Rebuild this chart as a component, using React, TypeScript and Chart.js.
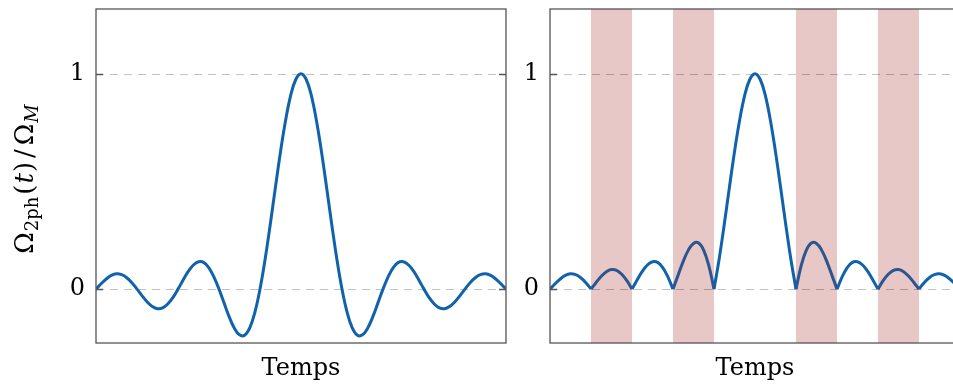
import React, { useEffect, useRef } from "react";
import { Chart, registerables } from "chart.js";

Chart.register(...registerables);

// Time axis, in units of pi
const T_PI = [
  -5, -4.875, -4.75, -4.625, -4.5, -4.375, -4.25, -4.125,
  -4, -3.875, -3.75, -3.625, -3.5, -3.375, -3.25, -3.125,
  -3, -2.875, -2.75, -2.625, -2.5, -2.375, -2.25, -2.125,
  -2, -1.875, -1.75, -1.625, -1.5, -1.375, -1.25, -1.125,
  -1, -0.875, -0.75, -0.625, -0.5, -0.375, -0.25, -0.125,
  0,
  0.125, 0.25, 0.375, 0.5, 0.625, 0.75, 0.875, 1,
  1.125, 1.25, 1.375, 1.5, 1.625, 1.75, 1.875, 2,
  2.125, 2.25, 2.375, 2.5, 2.625, 2.75, 2.875, 3,
  3.125, 3.25, 3.375, 3.5, 3.625, 3.75, 3.875, 4,
  4.125, 4.25, 4.375, 4.5, 4.625, 4.75, 4.875, 5,
];

// Left panel: Omega_2ph(t)/Omega_M
const OMEGA_2PH = [
  0, 0.025, 0.047, 0.064, 0.071, 0.067, 0.053, 0.03,
  0, -0.031, -0.06, -0.081, -0.091, -0.087, -0.069, -0.039,
  0, 0.042, 0.082, 0.112, 0.127, 0.124, 0.1, 0.057,
  0, -0.065, -0.129, -0.181, -0.212, -0.214, -0.18, -0.108,
  0, 0.139, 0.3, 0.471, 0.637, 0.784, 0.9, 0.974,
  1,
  0.974, 0.9, 0.784, 0.637, 0.471, 0.3, 0.139, 0,
  -0.108, -0.18, -0.214, -0.212, -0.181, -0.129, -0.065, 0,
  0.057, 0.1, 0.124, 0.127, 0.112, 0.082, 0.042, 0,
  -0.039, -0.069, -0.087, -0.091, -0.081, -0.06, -0.031, 0,
  0.03, 0.053, 0.067, 0.071, 0.064, 0.047, 0.025, 0,
];

// Right panel: rectified curve
const OMEGA_2PH_RECT = [
  0, 0.025, 0.047, 0.064, 0.071, 0.067, 0.053, 0.03,
  0, 0.031, 0.06, 0.081, 0.091, 0.087, 0.069, 0.039,
  0, 0.042, 0.082, 0.112, 0.127, 0.124, 0.1, 0.057,
  0, 0.065, 0.129, 0.181, 0.212, 0.214, 0.18, 0.108,
  0, 0.139, 0.3, 0.471, 0.637, 0.784, 0.9, 0.974,
  1,
  0.974, 0.9, 0.784, 0.637, 0.471, 0.3, 0.139, 0,
  0.108, 0.18, 0.214, 0.212, 0.181, 0.129, 0.065, 0,
  0.057, 0.1, 0.124, 0.127, 0.112, 0.082, 0.042, 0,
  0.039, 0.069, 0.087, 0.091, 0.081, 0.06, 0.031, 0,
  0.03, 0.053, 0.067, 0.071, 0.064, 0.047, 0.025, 0,
];

const LOBE_EDGES = [-5, -4, -3, -2, -1, 1, 2, 3, 4, 5];
const SHADED_BANDS = [
  [-4, -3],
  [-2, -1],
  [1, 2],
  [3, 4],
];
const Y_TICKS = [0, 1];
const X_RANGE = [-5, 5];
const Y_RANGE = [-0.25, 1.3];
const X_TITLE = "Temps";

const FONT = "'DejaVu Serif', serif";
const LINE_BLUE = "#1062ab";
const LINE_SHADED = "#2b5690";
const BAND_COLOR = "#e8c7c7";
const FRAME_COLOR = "#555555";

function decorPlugin(bands: number[][], drawYTitle: boolean) {
  return {
    id: "decor",
    beforeDraw(chart: any) {
      const { ctx, chartArea: a, scales } = chart;
      const x = scales.x;
      ctx.save();
      ctx.fillStyle = BAND_COLOR;
      for (const [b0, b1] of bands) {
        const p0 = x.getPixelForValue(b0);
        const p1 = x.getPixelForValue(b1);
        ctx.fillRect(p0, a.top, p1 - p0, a.bottom - a.top);
      }
      ctx.restore();
    },
    beforeDatasetsDraw(chart: any) {
      const { ctx, chartArea: a, scales } = chart;
      const y = scales.y;
      ctx.save();
      ctx.strokeStyle = "rgba(0,0,0,0.24)";
      ctx.lineWidth = 1;
      ctx.setLineDash([8, 6]);
      for (const v of Y_TICKS) {
        const py = Math.round(y.getPixelForValue(v)) + 0.5;
        ctx.beginPath();
        ctx.moveTo(a.left, py);
        ctx.lineTo(a.right, py);
        ctx.stroke();
      }
      ctx.restore();
    },
    afterDraw(chart: any) {
      const { ctx, chartArea: a, scales } = chart;
      const y = scales.y;
      ctx.save();
      ctx.strokeStyle = FRAME_COLOR;
      ctx.lineWidth = 1.3;
      for (const v of Y_TICKS) {
        const py = Math.round(y.getPixelForValue(v)) + 0.5;
        ctx.beginPath();
        ctx.moveTo(a.left, py);
        ctx.lineTo(a.left + 7, py);
        ctx.moveTo(a.right - 7, py);
        ctx.lineTo(a.right, py);
        ctx.stroke();
      }
      ctx.strokeRect(a.left, a.top, a.right - a.left, a.bottom - a.top);
      ctx.restore();

      if (drawYTitle) {
        const parts = [
          { t: "Ω", size: 26, style: "", dy: 0, gap: 0 },
          { t: "2ph", size: 18, style: "", dy: 5, gap: 1 },
          { t: "(", size: 26, style: "", dy: 0, gap: 2 },
          { t: "t", size: 26, style: "italic ", dy: 0, gap: 1 },
          { t: ")", size: 26, style: "", dy: 0, gap: 1 },
          { t: "/", size: 26, style: "", dy: 0, gap: 4 },
          { t: "Ω", size: 26, style: "", dy: 0, gap: 4 },
          { t: "M", size: 18, style: "italic ", dy: 5, gap: 1 },
        ];
        ctx.save();
        let total = 0;
        const widths: number[] = [];
        for (const p of parts) {
          ctx.font = `${p.style}${p.size}px ${FONT}`;
          const w = ctx.measureText(p.t).width;
          widths.push(w);
          total += w + p.gap;
        }
        const cy = (a.top + a.bottom) / 2 + 3;
        ctx.translate(33, cy);
        ctx.rotate(-Math.PI / 2);
        ctx.fillStyle = "#000";
        ctx.textBaseline = "alphabetic";
        ctx.textAlign = "left";
        let cx = -total / 2;
        parts.forEach((p, i) => {
          cx += p.gap;
          ctx.font = `${p.style}${p.size}px ${FONT}`;
          ctx.fillText(p.t, cx, p.dy);
          cx += widths[i];
        });
        ctx.restore();
      }
    },
  };
}

function buildOptions(yAxisWidth: number, rightPad: number) {
  return {
    responsive: false,
    animation: false as const,
    events: [],
    layout: { padding: { left: 0, right: rightPad, top: 9, bottom: 0 } },
    plugins: { legend: { display: false }, tooltip: { enabled: false } },
    elements: { point: { radius: 0 } },
    scales: {
      x: {
        type: "linear" as const,
        min: X_RANGE[0],
        max: X_RANGE[1],
        ticks: { display: false },
        grid: { display: false, drawTicks: false },
        border: { display: false },
        title: {
          display: true,
          text: X_TITLE,
          color: "#000",
          font: { family: FONT, size: 24, lineHeight: 1.2 },
          padding: { top: 0, bottom: 2 },
        },
        afterFit: (s: any) => {
          s.height = 42;
          s.paddingLeft = 0;
          s.paddingRight = 0;
        },
      },
      y: {
        type: "linear" as const,
        min: Y_RANGE[0],
        max: Y_RANGE[1],
        afterBuildTicks: (s: any) => {
          s.ticks = Y_TICKS.map((v) => ({ value: v }));
        },
        ticks: {
          color: "#000",
          font: { family: FONT, size: 24 },
          padding: 11,
          callback: (v: any) => String(v),
        },
        grid: { display: false, drawTicks: false },
        border: { display: false },
        afterFit: (s: any) => {
          s.width = yAxisWidth;
          s.paddingTop = 0;
          s.paddingBottom = 0;
        },
      },
    },
  };
}

function points(vals: number[], lo: number, hi: number) {
  const out: { x: number; y: number }[] = [];
  T_PI.forEach((t, i) => {
    if (t >= lo && t <= hi) out.push({ x: t, y: vals[i] });
  });
  return out;
}

export default function App() {
  const leftRef = useRef<HTMLCanvasElement>(null);
  const rightRef = useRef<HTMLCanvasElement>(null);

  useEffect(() => {
    const left = new Chart(leftRef.current!, {
      type: "line",
      data: {
        datasets: [
          {
            data: points(OMEGA_2PH, X_RANGE[0], X_RANGE[1]),
            borderColor: LINE_BLUE,
            borderWidth: 3,
            tension: 0.4,
            fill: false,
          },
        ],
      },
      options: buildOptions(96, 14) as any,
      plugins: [decorPlugin([], true)],
    });

    const lobeSets = [];
    for (let i = 0; i < LOBE_EDGES.length - 1; i++) {
      const lo = LOBE_EDGES[i];
      const hi = LOBE_EDGES[i + 1];
      const shaded = SHADED_BANDS.some((b) => b[0] === lo && b[1] === hi);
      lobeSets.push({
        data: points(OMEGA_2PH_RECT, lo, hi),
        borderColor: shaded ? LINE_SHADED : LINE_BLUE,
        borderWidth: 3,
        tension: 0.4,
        fill: false,
        borderJoinStyle: "round" as const,
      });
    }
    const right = new Chart(rightRef.current!, {
      type: "line",
      data: { datasets: lobeSets },
      options: buildOptions(30, 0) as any,
      plugins: [decorPlugin(SHADED_BANDS, false)],
    });

    return () => {
      left.destroy();
      right.destroy();
    };
  }, []);

  return (
    <div
      style={{
        position: "fixed",
        left: 0,
        top: 0,
        width: 953,
        height: 385,
        overflow: "hidden",
        background: "#fff",
      }}
    >
      <canvas
        ref={leftRef}
        width={520}
        height={385}
        style={{ position: "absolute", left: 0, top: 0, display: "block" }}
      />
      <canvas
        ref={rightRef}
        width={440}
        height={385}
        style={{ position: "absolute", left: 520, top: 0, display: "block" }}
      />
    </div>
  );
}
